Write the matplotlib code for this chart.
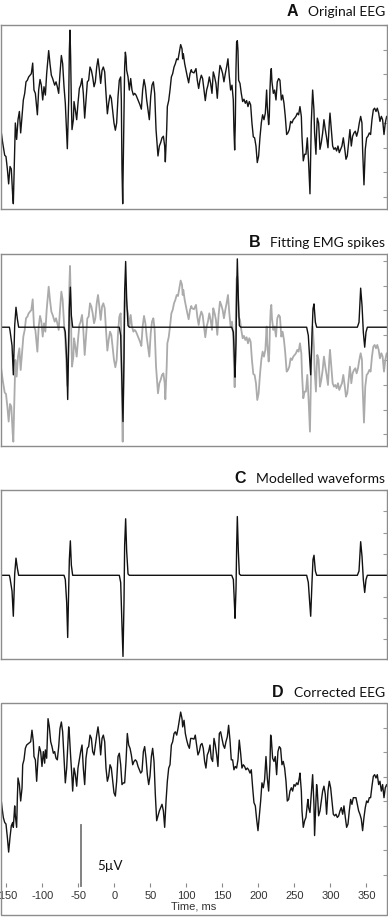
import matplotlib
matplotlib.use("Agg")
import matplotlib.pyplot as plt
from matplotlib.patches import Rectangle
import numpy as np

plt.rcParams['axes.unicode_minus'] = False

# Original EEG (ms, uV)
eeg_t = [-159.0, -155.3, -152.5, -150.7, -148.8, -147.0, -145.1, -143.3, -141.4, -140.5,
         -138.6, -137.7, -135.9, -134.0, -132.1, -130.3, -128.4, -126.6, -124.7, -122.9,
         -121.0, -119.2, -117.3, -115.5, -113.6, -111.8, -109.9, -107.1, -105.3, -103.4,
         -101.6, -99.7, -97.9, -96.0, -94.2, -91.4, -89.6, -87.7, -85.9, -83.1,
         -81.2, -79.4, -77.5, -75.7, -73.8, -72.0, -70.1, -68.3, -66.4, -65.5,
         -63.6, -62.7, -61.8, -60.9, -59.9, -59.0, -57.1, -56.2, -54.4, -52.5,
         -50.7, -48.8, -47.0, -45.1, -43.3, -41.4, -39.6, -37.7, -35.9, -34.0,
         -32.1, -30.3, -28.4, -26.6, -24.7, -22.9, -21.0, -19.2, -17.3, -15.5,
         -13.6, -11.8, -9.9, -8.1, -6.2, -4.4, -2.5, -0.7, 1.2, 3.0,
         4.9, 6.7, 8.6, 9.5, 10.4, 11.4, 12.3, 13.2, 14.1, 15.1,
         16.0, 16.9, 18.8, 20.6, 22.5, 24.3, 26.2, 28.0, 29.9, 31.7,
         33.6, 35.4, 37.3, 39.1, 41.0, 42.9, 44.7, 46.6, 48.4, 50.3,
         52.1, 54.0, 55.8, 57.7, 59.5, 60.4, 62.3, 64.1, 66.0, 67.9,
         69.7, 70.6, 72.5, 73.4, 75.3, 77.1, 79.0, 80.8, 82.7, 84.5,
         86.4, 88.2, 90.1, 91.9, 93.8, 94.7, 95.6, 97.5, 99.3, 101.2,
         103.0, 104.9, 106.7,
         107.6, 110.4, 113.2, 115.0, 116.9, 118.7, 120.6, 122.4, 124.3, 126.1,
         128.0, 129.8, 131.7, 133.5, 135.4, 137.2, 139.1, 140.9, 142.8, 144.6,
         146.5, 148.3, 150.2, 152.0, 153.9, 155.7, 157.6, 159.5, 161.3, 163.2,
         165.0, 165.9, 166.9, 167.8, 168.7, 169.6, 170.6, 171.5, 172.4, 174.3,
         176.1, 178.0, 179.8, 181.7, 183.5, 185.4, 187.2, 189.1, 190.9, 192.8,
         194.6, 196.5, 198.3, 200.2, 202.0, 203.9, 205.7, 207.6, 209.5, 211.3,
         212.2, 214.1, 215.0, 215.9, 216.9, 217.8, 218.7, 220.6, 222.4, 224.3,
         226.1, 228.0, 229.8, 231.7, 233.5, 235.4, 237.2, 239.1, 240.9, 242.8,
         244.6, 246.5, 248.3, 250.2, 252.0, 253.9, 255.7, 257.6, 259.5, 260.4,
         262.2, 264.1, 265.9, 267.8, 268.7, 269.6, 271.5, 273.3, 275.2, 277.0,
         277.9, 279.8, 280.7, 281.7, 283.5, 285.4, 287.2, 289.1, 290.9, 292.8,
         294.6, 296.5, 298.3, 299.3, 301.1, 303.0, 304.8, 306.7, 308.5, 310.4,
         312.2, 314.1, 315.9, 317.8, 319.6, 321.5, 323.3, 325.2, 327.0, 328.9,
         330.7, 332.6, 334.5, 336.3, 338.2, 340.0, 341.9, 343.7, 344.6, 346.5,
         348.3, 350.2, 352.0, 353.9, 355.7, 357.6, 359.5, 361.3, 363.2, 365.0,
         366.9, 368.7, 370.6, 372.4, 374.3, 376.1, 378.0, 379.8]
eeg_uv = [0.00, -1.61, -2.63, -2.74, -3.76, -4.97, -3.55, -3.76, -5.91, -6.59,
          -1.88, 0.00, -1.34, 0.27, 0.94, -0.81, 0.54, 1.88, 2.42, 3.36,
          3.49, 3.76, 3.90, 4.03, 4.89, 2.69, 2.42, 0.67, 2.69, 3.55,
          3.09, 1.88, 2.96, 2.28, 4.03, 5.91, 4.84, 3.90, 3.63, 3.09,
          3.36, 2.96, 2.42, 4.03, 5.51, 4.84, 2.96, 1.61, -0.81, -2.10,
          1.88, 5.91, 7.58, 5.38, 1.61, -0.54, 0.27, 1.75, 1.08, 0.27,
          1.61, 2.82, 3.09, 3.63, 2.42, 0.40, 1.88, 3.36, 3.49, 4.57,
          4.30, 3.76, 2.96, 3.36, 4.57, 5.24, 4.30, 3.23, 4.30, 4.57,
          4.17, 2.42, 0.75, 1.61, 2.28, 2.02, 0.94, 0.00, -0.59, 0.00,
          2.15, 3.49, 3.76, 1.88, -3.76, -6.59, -2.69, 1.34, 4.57, 5.78,
          5.38, 4.30, 3.76, 2.69, 3.63, 2.69, 2.28, 2.42, 2.28, 2.02,
          1.75, 1.48, 1.13, 2.69, 3.55, 2.96, 1.88, 1.08, 0.27, 2.15,
          3.09, 3.36, 2.42, -0.54, -2.02, -2.69, -1.88, -1.61, -1.21, -1.08,
          -1.88, -3.17, -0.54, 1.34, 1.83, 2.69, 3.76, 4.03, 4.57, 4.84,
          5.24, 5.16, 5.78, 6.40, 6.05, 5.24, 5.65, 4.84, 4.30, 3.76,
          3.28, 4.03, 4.35,
          4.17, 4.09, 4.44, 3.49, 2.82, 3.49, 3.90, 3.63, 2.69, 1.83,
          2.69, 3.09, 3.76, 3.23, 2.42, 4.17, 3.76, 3.23, 2.02, 3.63,
          4.70, 4.44, 4.03, 3.36, 4.03, 4.57, 5.24, 3.76, 2.69, 3.09,
          1.88, -0.54, -2.20, 0.00, 4.30, 6.59, 6.72, 5.91, 3.49, 3.23,
          2.42, 1.75, 1.94, 1.61, 1.83, 1.34, 1.75, 1.48, 0.00, -1.13,
          -1.21, -1.88, -3.23, -2.69, -1.21, 0.00, 0.67, 0.27, 0.81, 2.69,
          1.34, -0.13, 0.54, 2.69, 4.03, 4.44, 3.36, 2.42, 2.69, 1.88,
          3.36, 3.63, 3.49, 1.88, 2.28, 1.61, 0.54, -0.94, -0.81, -0.54,
          0.13, 0.00, 0.27, 0.40, 0.54, 0.81, 0.67, 1.34, 0.54, -1.08,
          -3.09, -2.55, -2.55, -1.21, -2.15, -3.23, -5.78, 0.00, 2.69, 1.08,
          -0.81, -2.55, -0.81, 0.40, 0.00, -2.15, -1.61, -0.81, 0.27, -0.54,
          -1.21, -2.02, 0.00, 0.81, -0.54, -1.88, -2.15, -2.02, -2.28, -1.88,
          -2.42, -2.15, -1.88, -1.21, -2.02, -2.96, -2.69, -1.61, -0.54, -1.88,
          -1.08, -0.81, -0.67, -1.08, -0.67, 0.00, 0.54, 0.00, -2.15, -5.05,
          -2.15, -1.21, -1.08, -0.81, -0.94, 0.27, 1.08, 1.21, 0.94, 1.21,
          0.81, 0.13, 0.54, 0.27, -0.94, 0.00, 0.54, 0.27]

# Modelled EMG spike waveforms (ms, uV)
model_t = [-160.0, -146.0, -145.1, -142.3, -140.5, -138.6, -136.8, -134.9, -133.1,
           -70.1, -68.3, -66.4, -65.0, -63.6, -62.7, -61.3, -59.9, -58.1,
           6.7, 8.6, 10.4, 11.8, 13.2, 14.1, 15.5, 16.9, 18.8, 20.6,
           162.8, 165.1, 166.5, 167.4, 168.8, 169.7, 170.6, 172.0, 173.4, 175.3,
           266.9, 269.2, 271.1, 272.5, 274.3, 275.7, 277.1, 279.0, 280.8,
           337.3, 339.6, 341.9, 343.8, 345.6, 347.5, 349.3, 351.2, 380.0]
model_uv = [0.00, 0.00, -0.27, -1.48, -3.84, 0.13, 1.61, 0.67, 0.00,
            0.00, -0.40, -2.55, -5.83, -1.21, 1.48, 3.23, 0.94, 0.00,
            0.00, -0.67, -4.70, -7.61, -2.55, 2.82, 5.30, 2.28, 0.13, 0.00,
            0.00, -0.40, -2.55, -4.03, -1.21, 2.82, 5.51, 2.28, 0.13, 0.00,
            0.00, -0.67, -2.55, -3.84, -0.67, 1.48, 1.88, 0.40, 0.00,
            0.00, 0.40, 3.15, 1.75, -0.40, -1.61, -0.40, 0.00, 0.00]

# Corrected EEG (ms, uV)
clean_t = [-159.0, -156.2, -154.4, -152.5, -150.7, -148.8, -147.0, -145.1, -143.3, -141.4,
           -140.5, -138.6, -137.7, -135.9, -134.9, -134.0, -132.1, -130.3, -128.4, -127.5,
           -125.7, -123.8, -122.0, -119.2, -116.4, -114.6, -112.7, -111.8, -109.9, -108.1,
           -106.2, -104.4, -102.5, -100.7, -98.8, -97.0, -96.0, -94.2, -92.3, -90.5,
           -88.6, -86.8, -84.9, -83.1, -81.2, -79.4, -77.5, -75.7, -73.8, -72.0,
           -70.1, -68.3, -66.4, -64.6, -63.6, -62.7, -60.9, -59.0, -58.1, -56.2,
           -54.4, -52.5, -50.7, -48.8, -47.0, -45.1, -43.3, -41.4, -39.6, -37.7,
           -35.9, -34.0, -32.1, -30.3, -28.4, -26.6, -24.7, -22.9, -21.0, -19.2,
           -17.3, -15.5, -13.6, -11.8, -9.9, -8.1, -6.2, -4.4, -2.5, -0.7,
           1.2, 3.0, 4.9, 6.7, 8.6, 10.4, 12.3, 14.1, 16.0, 17.8,
           19.7, 21.6, 23.4, 25.3, 27.1, 29.0, 30.8, 32.7, 34.5, 36.4,
           38.2, 40.1, 41.9, 43.8, 45.6, 47.5, 49.3, 51.2, 53.0, 54.9,
           56.7, 58.6, 60.4, 62.3, 64.1, 66.0, 67.9, 69.7, 71.6, 73.4,
           75.3, 77.1, 79.0, 80.8, 82.7, 84.5, 86.4, 88.2, 90.1, 91.9,
           93.8, 94.7, 96.6, 98.4, 100.3, 102.1, 104.0, 105.8,
           107.6, 110.4, 112.2, 114.1, 115.9, 117.8, 119.6, 121.5, 123.3, 125.2,
           127.0, 128.9, 130.7, 132.6, 134.4, 136.3, 138.2, 140.0, 141.9, 143.7,
           145.6, 147.4, 149.3, 151.1, 153.0, 154.8, 156.7, 158.5, 160.4, 162.2,
           164.1, 165.9, 167.8, 169.6, 171.5, 173.3, 175.2, 177.0, 178.9, 180.7,
           182.6, 184.5, 186.3, 188.2, 190.0, 191.9, 193.7, 195.6, 197.4, 199.3,
           201.1, 203.0, 204.8, 206.7, 208.5, 210.4, 212.2, 214.1, 215.9, 216.9,
           217.8, 219.6, 221.5, 223.3, 225.2, 227.0, 228.9, 230.7, 232.6, 234.4,
           236.3, 238.2, 240.0, 241.9, 243.7, 245.6, 247.4, 249.3, 251.1, 253.0,
           254.8, 256.7, 257.6, 259.5, 260.4, 262.2, 264.1, 265.9, 267.8, 268.7,
           269.6, 271.5, 273.3, 275.2, 277.0, 277.9, 279.8, 280.7, 281.7, 283.5,
           285.4, 287.2, 289.1, 290.9, 292.8, 294.6, 296.5, 298.3, 300.2, 302.0,
           303.9, 305.7, 307.6, 309.5, 311.3, 313.2, 315.0, 316.9, 318.7, 320.6,
           322.4, 324.3, 326.1, 328.0, 329.8, 331.7, 333.5, 335.4, 337.2, 339.1,
           340.9, 342.8, 344.6, 346.5, 348.3, 350.2, 352.0, 353.9, 355.7, 357.6,
           359.5, 361.3, 363.2, 365.0, 366.9, 368.7, 370.6, 372.4, 374.3, 376.1,
           378.0, 379.8]
clean_uv = [0.94, -0.54, -1.34, -1.75, -1.88, -2.96, -4.17, -2.96, -2.02, -1.75,
            -2.15, -0.40, -1.21, -2.15, 0.27, 1.88, 1.34, 0.00, 1.08, 2.96,
            3.36, 4.30, 4.57, 4.70, 4.84, 5.78, 4.84, 3.63, 3.36, 1.61,
            3.49, 4.44, 4.03, 2.82, 4.03, 3.09, 4.17, 3.49, 6.72, 6.05,
            4.84, 4.44, 3.90, 4.03, 3.49, 3.36, 4.44, 5.91, 6.45, 5.65,
            3.49, 1.48, 2.69, 4.84, 6.05, 5.51, 3.63, 1.88, 0.81, 2.69,
            2.15, 1.21, 2.69, 3.36, 4.03, 4.57, 2.69, 1.34, 3.49, 4.30,
            4.44, 5.38, 5.11, 4.03, 3.76, 4.57, 5.38, 6.05, 5.11, 3.76,
            5.11, 5.38, 4.84, 2.69, 1.61, 2.02, 2.96, 2.69, 1.61, 0.67,
            0.40, 1.61, 3.63, 3.90, 2.96, 1.34, 1.48, 1.48, 3.23, 5.51,
            4.57, 4.30, 3.76, 2.96, 3.23, 3.36, 3.23, 2.82, 2.55, 2.28,
            2.42, 4.03, 4.44, 3.49, 2.15, 1.34, 2.02, 3.63, 4.30, 3.23,
            0.54, -1.61, -1.21, -0.81, -0.54, -0.27, -0.81, -2.15, 0.00, 1.61,
            2.69, 2.96, 4.57, 4.84, 5.51, 5.65, 5.38, 5.91, 6.59, 7.26,
            6.72, 6.05, 6.59, 5.51, 4.97, 4.57, 4.30, 5.11,
            5.11, 5.05, 5.38, 4.57, 3.76, 4.03, 4.57, 4.70, 4.30, 3.23,
            2.69, 3.76, 4.03, 4.57, 3.49, 3.23, 5.11, 4.57, 3.76, 2.82,
            5.51, 5.65, 5.11, 4.57, 4.30, 4.84, 5.24, 6.18, 4.97, 3.36,
            3.36, 2.55, 2.82, 2.69, 3.36, 4.97, 3.90, 2.69, 2.96, 2.82,
            2.55, 2.69, 2.55, 2.28, 2.55, 1.08, -0.13, -0.40, -1.48, -2.42,
            -1.21, 0.00, 1.48, 1.08, 1.75, 3.63, 1.88, 0.81, 2.96, 5.38,
            5.11, 3.49, 3.23, 3.63, 2.15, 4.03, 4.44, 4.30, 2.96, 3.23,
            2.69, 1.61, 0.00, 0.13, 0.81, 1.08, 0.81, 1.34, 1.21, 1.48,
            1.34, 1.88, 2.28, 0.81, -0.81, -2.15, -1.61, -1.34, -0.27, 0.13,
            -0.54, -0.94, 0.54, 2.15, -0.27, -2.82, 0.00, 1.34, 0.81, -1.21,
            -0.81, 0.00, 0.81, 1.21, 0.54, -1.08, 0.81, 1.61, 1.08, 0.00,
            -1.08, -1.21, -1.08, -1.34, -1.21, -0.81, -0.54, -1.08, -0.40, -1.34,
            -2.15, -1.88, -0.81, 0.13, -0.27, 0.27, 0.27, 0.27, -0.27, -0.81,
            -1.08, -1.48, -2.42, -1.34, -0.54, 0.00, -0.13, 0.27, 0.27, 1.21,
            2.02, 2.15, 1.88, 2.15, 1.34, 1.61, 0.81, 1.34, 0.27, 1.08,
            1.34, 1.08]

time_ticks = [-150, -100, -50, 0, 50, 100, 150, 200, 250, 300, 350]
bar_t = -46.1
bar_lo = -6.94
bar_uv = 5
b_offset = 2.64   # where the model baseline sits on the EEG in panel B

W, H = 388, 917
frame = '#8c8c8c'
xlim = (-157.9, 378.2)

fig = plt.figure(figsize=(W / 100, H / 100), dpi=100)


def add_panel(top, bottom, ylim):
    ax = fig.add_axes([0.8 / W, (H - bottom) / H, 386 / W, (bottom - top) / H])
    ax.set_xlim(*xlim)
    ax.set_ylim(*ylim)
    for s in ax.spines.values():
        s.set_color(frame)
        s.set_linewidth(1.0)
    ax.yaxis.tick_right()
    ax.set_yticks(np.arange(-6, 9, 2))
    ax.tick_params(axis='y', direction='in', length=3, color='#999999',
                   labelright=False, labelleft=False)
    ax.set_xticks([])
    return ax


ax_a = add_panel(25, 209, (-7.02, 7.82))
ax_a.plot(eeg_t, eeg_uv, color='#151515', lw=1.0)

ax_b = add_panel(254.3, 446, (-6.94, 8.52))
ax_b.plot(eeg_t, eeg_uv, color='#ababab', lw=1.3)
ax_b.plot(model_t, np.array(model_uv) + b_offset, color='#111111', lw=1.0)

ax_c = add_panel(490, 659, (-7.85, 5.78))
ax_c.plot(model_t, model_uv, color='#111111', lw=1.0)

ax_d = add_panel(703, 887, (-7.02, 7.82))
ax_d.plot(clean_t, clean_uv, color='#151515', lw=1.0)
for s in ax_d.spines.values():
    s.set_visible(False)
ax_d.set_xticks(time_ticks)
ax_d.set_xticklabels([str(v) for v in time_ticks])
ax_d.tick_params(axis='x', direction='in', length=3, width=0.8, color='#888888',
                 pad=3, labelsize=8, labelcolor='#333333')
for lab in ax_d.get_xticklabels():
    lab.set_family('Liberation Sans')
ax_d.set_xlabel('Time, ms', fontsize=8, color='#333333', family='Liberation Sans',
                labelpad=0)
ax_d.plot([bar_t, bar_t], [bar_lo, bar_lo + bar_uv], color='#777777', lw=1.3)
ax_d.text(-24, -5.3, '5\u00b5V', fontsize=9.5, va='center', ha='left',
          family=['Lato', 'DejaVu Sans'], color='#111111')

fig.patches.append(Rectangle((0.8 / W, 2 / H), 386 / W, (915 - 703) / H,
                             transform=fig.transFigure, fill=False,
                             edgecolor=frame, lw=1.0))

renderer = fig.canvas.get_renderer()


def panel_title(letter, text, base_px, gap=10):
    yb = 1 - base_px / H
    t = fig.text(385 / W, yb, text, ha='right', va='baseline', fontsize=10,
                 family=['Lato', 'DejaVu Sans'], color='#111111')
    bb = t.get_window_extent(renderer=renderer)
    fig.text((bb.x0 - gap) / W, yb, letter, ha='right', va='baseline',
             fontsize=11.5, fontweight='bold', family='Liberation Sans',
             color='#111111')


panel_title('A', 'Original EEG', 16)
panel_title('B', 'Fitting EMG spikes', 247.3)
panel_title('C', 'Modelled waveforms', 482.7)
panel_title('D', 'Corrected EEG', 697)

fig.savefig('out.png', dpi=100)
